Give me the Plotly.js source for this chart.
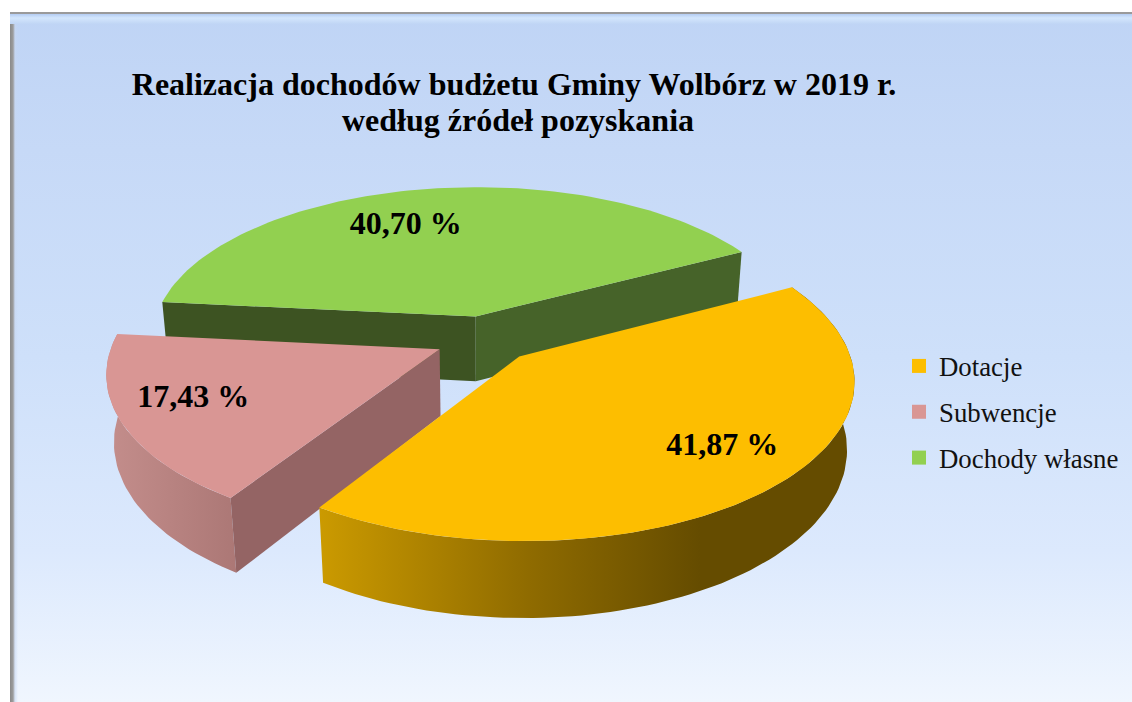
<!DOCTYPE html>
<html>
<head>
<meta charset="utf-8">
<script src="https://cdn.plot.ly/plotly-3.0.1.min.js"></script>
<style>
html,body{margin:0;padding:0;background:#fff;width:1132px;height:702px;overflow:hidden}
#frame{position:absolute;left:10px;top:12px;width:1122px;height:690px;
 background:
  linear-gradient(to bottom,#9a9a9a 0,#9a9a9a 2px,#b4ccf2 2px,#d3e6fc 6px,#c0d5f5 12px,rgba(192,213,245,0) 12px),
  linear-gradient(to right,#8a8a8a 0,#9c9c9c 3px,rgba(200,215,240,.6) 5px,rgba(200,215,240,0) 8px),
  linear-gradient(to bottom,#bfd4f5 0%,#c6d9f7 20%,#cee0fa 50%,#dce9fd 78%,#f0f6fe 100%);}
#chart{position:absolute;left:0;top:0;width:1132px;height:702px}
</style>
</head>
<body>
<div id="frame"></div>
<div id="chart"></div>
<script>
const categories = ["Dotacje", "Subwencje", "Dochody własne"];
const shares = [41.87, 17.43, 40.70];
const valueLabels = ["41,87 %", "17,43 %", "40,70 %"];
const titleLines = ["Realizacja dochodów budżetu Gminy Wolbórz w 2019 r.", "według źródeł pozyskania"];

const capColors = ["#fdbe00", "#d99694", "#92d050"];
const serif = '"Liberation Serif","Times New Roman",serif';

// perspective view of the tilted pie
const view = {cx:485, cy:339, A:326, B:153.3, k:0.14, m:0.02, s:0.018, H:67.5, explode:0.153, startDeg:62.2, labelDrop:2};
const labelTurn = [-4.9, 3.4, -8.4];
const labelRadius = [0.762, 0.770, 0.728];
const rad = d => d*Math.PI/180;
const total = shares.reduce((a,b)=>a+b,0);

function project(u,v,z){
  const w = 1 + view.k*v + view.m*z;
  return [view.cx + view.A*u/w, view.cy + (-view.B*v*(1+view.s*z) + view.H*z)/w];
}
let acc = view.startDeg;
const slices = shares.map(s=>{
  const a = acc, b = acc + s/total*360; acc = b;
  const mid = rad((a+b)/2);
  return {a, b, ox:view.explode*Math.sin(mid), oy:view.explode*Math.cos(mid), mid};
});
function rim(sl,deg,z){
  return project(sl.ox + Math.sin(rad(deg)), sl.oy + Math.cos(rad(deg)), z);
}
function apex(sl,z){ return project(sl.ox, sl.oy, z); }
function arc(sl,from,to,z){
  const n = Math.max(2,Math.ceil(Math.abs(to-from)/1.5)), pts=[];
  for(let i=0;i<=n;i++) pts.push(rim(sl,from+(to-from)*i/n,z));
  return pts;
}
function poly(pts,color,grad){
  const t = {type:"scatter",mode:"lines",x:pts.map(p=>p[0]),y:pts.map(p=>p[1]),
    line:{width:0,color:"rgba(0,0,0,0)"},fill:"toself",showlegend:false,hoverinfo:"skip"};
  if(grad) t.fillgradient = grad; else t.fillcolor = color;
  return t;
}
const cap = (sl,col)=>poly([apex(sl,0),...arc(sl,sl.a,sl.b,0),apex(sl,0)],col);
const edgeWall = (sl,deg,col)=>poly([apex(sl,0),rim(sl,deg,0),rim(sl,deg,1),apex(sl,1),apex(sl,0)],col);
const outerWall = (sl,from,to,grad)=>poly([...arc(sl,from,to,0),...arc(sl,to,from,1)],null,grad);

const [yellow,rose,green] = slices;
const traces = [
  edgeWall(green,green.a,"#3d5322"),
  edgeWall(green,green.b,"#466329"),
  cap(green,capColors[2]),
  outerWall(rose,rose.a,rose.b,{type:"horizontal",start:105,stop:240,
    colorscale:[[0,"#c48e8c"],[1,"#ab7775"]]}),
  edgeWall(rose,rose.a,"#946464"),
  cap(rose,capColors[1]),
  outerWall(yellow,yellow.a,yellow.b,{type:"horizontal",start:320,stop:700,
    colorscale:[[0,"#cb9a00"],[0.55,"#8f6b00"],[1,"#654c00"]]}),
  cap(yellow,capColors[0])
];
// value labels
const labelPts = slices.map((sl,i)=>{
  const t = sl.mid + rad(labelTurn[i]), r = labelRadius[i];
  return project(sl.ox+r*Math.sin(t), sl.oy+r*Math.cos(t),0);
});
traces.push({type:"scatter",mode:"text",x:labelPts.map(p=>p[0]),y:labelPts.map(p=>p[1]+view.labelDrop),text:valueLabels,
  textposition:"middle center",textfont:{family:serif,size:32,color:"#000",weight:"bold"},showlegend:false,hoverinfo:"skip"});
// legend entries
categories.forEach((c,i)=>traces.push({type:"scatter",mode:"markers",x:[-200],y:[-200],name:c,legendgroup:c,
  marker:{symbol:"square",size:14,color:capColors[i]},hoverinfo:"skip"}));

const layout = {
  width:1132,height:702,margin:{l:0,r:0,t:0,b:0},
  paper_bgcolor:"rgba(0,0,0,0)",plot_bgcolor:"rgba(0,0,0,0)",
  xaxis:{range:[0,1132],visible:false,fixedrange:true},
  yaxis:{range:[702,0],visible:false,fixedrange:true},
  title:{text:titleLines[0],x:514/1132,xanchor:"center",y:1-84/702,yanchor:"middle",
    xref:"paper",yref:"paper",font:{family:serif,size:32,color:"#000",weight:"bold"}},
  annotations:[{text:"<b>"+titleLines[1]+"</b>",xref:"paper",yref:"paper",x:517.5/1132,y:1-120/702,
    xanchor:"center",yanchor:"middle",showarrow:false,font:{family:serif,size:32,color:"#000"}}],
  legend:{x:899/1132,xanchor:"left",y:1-342/702,yanchor:"top",bgcolor:"rgba(0,0,0,0)",borderwidth:0,
    font:{family:serif,size:26.8,color:"#111"},tracegroupgap:8,itemwidth:30,traceorder:"grouped"},
  showlegend:true
};
Plotly.newPlot("chart",traces,layout,{displayModeBar:false,staticPlot:true});
</script>
</body>
</html>
